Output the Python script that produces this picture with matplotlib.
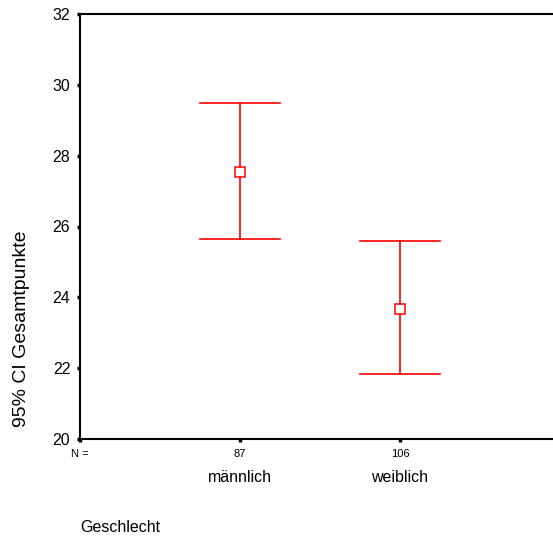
import numpy as np
import matplotlib.pyplot as plt
from matplotlib import transforms

plt.rcParams['font.family'] = ['Liberation Sans', 'DejaVu Sans']

# data
groups = ['männlich', 'weiblich']
n_counts = [87, 106]
means = [27.55, 23.68]
upper = [29.50, 25.58]
lower = [25.65, 21.83]

xpos = np.arange(1, len(groups) + 1)

fig = plt.figure(figsize=(5.53, 5.40), dpi=100)
ax = fig.add_axes([80 / 553, 101 / 540, 480 / 553, 425 / 540])

red = '#ff0000'
cap = 0.25
for x, m, lo, hi in zip(xpos, means, lower, upper):
    ax.plot([x, x], [lo, hi], color=red, lw=1.2)
    ax.plot([x - cap, x + cap], [hi, hi], color=red, lw=1.2)
    ax.plot([x - cap, x + cap], [lo, lo], color=red, lw=1.2)
ax.plot(xpos, means, ls='none', marker='s', ms=6.5, mfc='white',
        mec=red, mew=1.1, zorder=3)

ax.set_xlim(0, 3)
ax.set_ylim(20, 32)
ax.set_yticks(np.arange(20, 33, 2))
ax.set_xticks([0] + list(xpos))
ax.set_xticklabels(['N ='] + [str(n) for n in n_counts], fontsize=8)

for s in ['left', 'bottom', 'top']:
    ax.spines[s].set_linewidth(1.5)
ax.spines['right'].set_visible(False)
ax.tick_params(axis='y', direction='out', length=2, width=2.5, labelsize=11.5, pad=5)
ax.tick_params(axis='x', direction='out', length=2, width=2.5, pad=5)

trans = transforms.blended_transform_factory(ax.transData, fig.transFigure)
for x, g in zip(xpos, groups):
    ax.text(x, (540 - 478) / 540, g, transform=trans, ha='center', va='center', fontsize=11.5)

fig.text(80 / 553, (540 - 528) / 540, 'Geschlecht', ha='left', va='center', fontsize=11.5)
fig.text(22 / 553, (540 - 329) / 540, '95% CI Gesamtpunkte', rotation=90,
         ha='center', va='center', fontsize=14)

fig.savefig('out.png', dpi=100)
